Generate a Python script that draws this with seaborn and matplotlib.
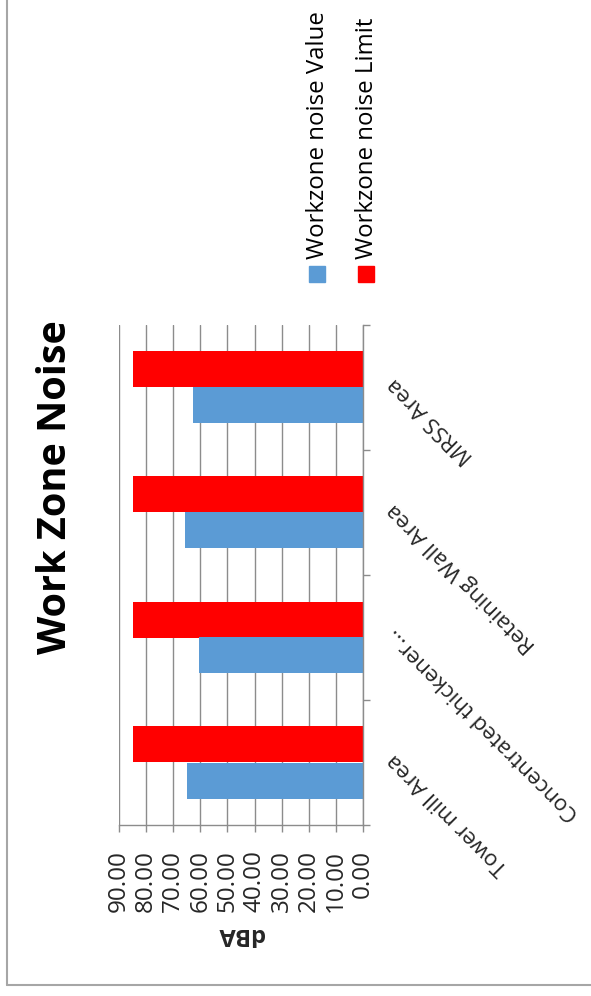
import matplotlib
matplotlib.use("Agg")
import numpy as np
import pandas as pd
import seaborn as sns
import matplotlib.pyplot as plt
from matplotlib.lines import Line2D
from matplotlib.patches import Rectangle

# Data
categories = ["Tower mill Area", "Concentrated thickener...", "Retaining Wall Area", "MRSS Area"]
noise_value = [65.0, 60.4, 65.5, 62.8]
noise_limit = [85.0, 85.0, 85.0, 85.0]
series = ["Workzone noise Value", "Workzone noise Limit"]
colors = ["#5B9BD5", "#FF0000"]
value_ticks = [0, 10, 20, 30, 40, 50, 60, 70, 80, 90]

df = pd.DataFrame({
    "Area": categories * 2,
    "dBA": noise_value + noise_limit,
    "Series": [series[0]] * 4 + [series[1]] * 4,
})

sns.set_theme(style="white")
plt.rcParams["font.family"] = ["Open Sans", "DejaVu Sans"]

W, H = 591, 996
fig = plt.figure(figsize=(W / 100, H / 100), dpi=100)
fig.patch.set_facecolor("white")

# plot area in pixel coordinates of the reference (chart is drawn rotated)
ax = fig.add_axes([119 / W, 1 - 825 / H, 244 / W, 500 / H])
sns.barplot(data=df, y="Area", x="dBA", hue="Series",
            order=categories[::-1], hue_order=series[::-1],
            palette=dict(zip(series, colors)), saturation=1,
            width=0.576, linewidth=0, orient="h", legend=False, ax=ax)

grid_c = "#8C8C8C"
ax.set_xlim(90, 0)
ax.set_ylim(3.5, -0.5)
ax.set_xticks(value_ticks)
ax.set_xticklabels([f"{t:.2f}" for t in value_ticks], rotation=90, fontsize=17.5)
ax.xaxis.grid(True, color=grid_c, lw=1)
ax.set_axisbelow(True)
ax.tick_params(axis="x", length=5, width=1, color=grid_c, pad=13, bottom=True)

# category labels on the right, rotated
ax.yaxis.set_ticks_position("right")
ax.set_yticks(np.arange(len(categories)) - 0.05)
ax.set_yticklabels(categories[::-1], rotation=135, rotation_mode="anchor",
                   ha="right", va="center", fontsize=16)
ax.tick_params(axis="y", which="major", length=0, pad=20)
ax.set_yticks(np.arange(-0.5, len(categories), 1.0), minor=True)
ax.tick_params(axis="y", which="minor", length=5, width=1, color=grid_c, right=True, left=False)

for s in ["left", "top"]:
    ax.spines[s].set_visible(False)
for s in ["right", "bottom"]:
    ax.spines[s].set_color(grid_c)
    ax.spines[s].set_linewidth(1)

ax.set_ylabel("")
ax.set_xlabel("dBA", fontsize=17, fontweight="bold", rotation=180, va="center")
ax.xaxis.set_label_coords(0.5, -0.218)

# title
fig.text(56 / W, 1 - 487 / H, "Work Zone Noise", rotation=90, ha="center", va="center",
         fontsize=28.5, fontweight="bold", color="black")

# legend, drawn rotated
for i, (name, c) in enumerate(zip(series, colors)):
    x0 = 309 + i * 49
    fig.patches.append(Rectangle((x0 / W, 1 - 282 / H), 16 / W, 16 / H,
                                 transform=fig.transFigure, color=c))
    fig.text((x0 + 9) / W, 1 - 259 / H, name, rotation=90, ha="center", va="bottom",
             fontsize=17.3, color="black")

# chart frame (left and bottom edges visible)
border_c = "#A6A6A6"
fig.lines.append(Line2D([7 / W, 7 / W], [1, 11 / H], transform=fig.transFigure, color=border_c, lw=1.5))
fig.lines.append(Line2D([7 / W, 1], [11 / H, 11 / H], transform=fig.transFigure, color=border_c, lw=1.5))

fig.savefig("out.png", dpi=100, facecolor="white")
